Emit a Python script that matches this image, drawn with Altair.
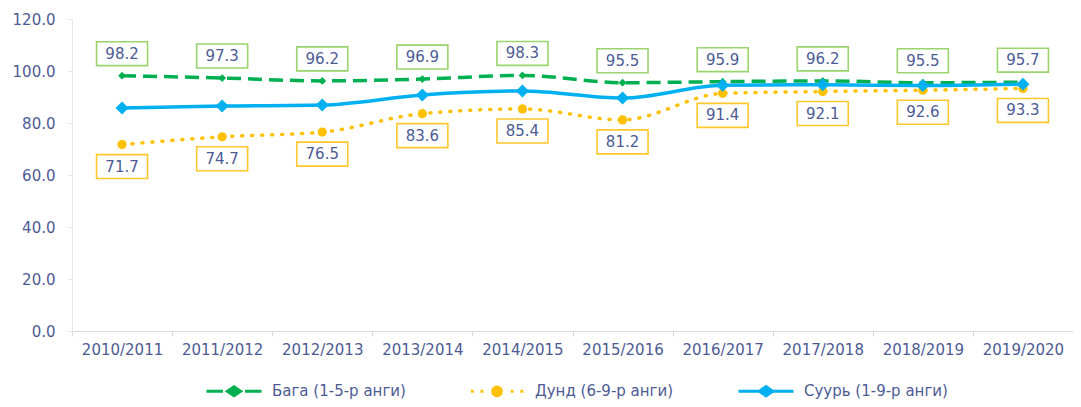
import altair as alt
import pandas as pd

years = ["2010/2011", "2011/2012", "2012/2013", "2013/2014", "2014/2015",
         "2015/2016", "2016/2017", "2017/2018", "2018/2019", "2019/2020"]
baga = [98.2, 97.3, 96.2, 96.9, 98.3, 95.5, 95.9, 96.2, 95.5, 95.7]
dund = [71.7, 74.7, 76.5, 83.6, 85.4, 81.2, 91.4, 92.1, 92.6, 93.3]
suur = [85.8, 86.5, 86.9, 90.8, 92.3, 89.6, 94.5, 94.7, 94.4, 94.9]

names = ["Бага (1-5-р анги)", "Дунд (6-9-р анги)", "Суурь (1-9-р анги)"]
colors = ["#00B050", "#FFC000", "#00B0F0"]

rows = []
for s, vals in zip(names, [baga, dund, suur]):
    for y, v in zip(years, vals):
        rows.append({"year": y, "series": s, "value": v})
df = pd.DataFrame(rows)

FONT = "DejaVu Sans"
TXT = "#4d5b94"

xenc = alt.X("year:N", sort=years,
             scale=alt.Scale(type="band", paddingInner=0, paddingOuter=0),
             axis=alt.Axis(title=None, labelAngle=0, tickBand="extent",
                           domainColor="#d9d9d9", tickColor="#d9d9d9", tickSize=5,
                           labelPadding=6, labelFont=FONT, labelFontSize=15,
                           labelColor=TXT, grid=False))
yenc = alt.Y("value:Q",
             scale=alt.Scale(domain=[0, 120], nice=False, zero=True),
             axis=alt.Axis(title=None, values=[0, 20, 40, 60, 80, 100, 120], format=".1f",
                           domainColor="#e6e6e6", tickColor="#e6e6e6", tickSize=4,
                           labelPadding=13, labelFont=FONT, labelFontSize=15,
                           labelColor=TXT, grid=False))

base = alt.Chart(df).encode(x=xenc, y=yenc)

specs = [
    (names[0], colors[0], [14, 7], 3.5, "butt", "diamond", 60),
    (names[1], colors[1], [1, 9], 3.5, "round", "circle", 85),
    (names[2], colors[2], None, 3.5, "butt", "diamond", 170),
]

layers = []
for s, col, dash, w, cap, shp, sz in specs:
    f = base.transform_filter(alt.datum.series == s)
    lk = dict(color=col, strokeWidth=w, strokeCap=cap, interpolate="monotone")
    if dash:
        lk["strokeDash"] = dash
    layers.append(f.mark_line(**lk))
    layers.append(f.mark_point(shape=shp, filled=True, size=sz, color=col, opacity=1))

box_path = "M-1,-0.47H1V0.47H-1Z"
label_specs = [
    (names[0], "#9BD46C", -22),
    (names[1], "#FFC72C", 22),
]
for s, bcol, off in label_specs:
    f = base.transform_filter(alt.datum.series == s)
    layers.append(f.mark_point(shape=box_path, size=51 * 51, fill="white", stroke=bcol,
                               strokeWidth=1.6, opacity=1, fillOpacity=1, yOffset=off))
    layers.append(f.mark_text(dy=off, font=FONT, fontSize=15, color=TXT).encode(
        text=alt.Text("value:Q", format=".1f")))

leg_paths = [
    "M-1,0H-0.4M0.4,0H1M-0.24,0L0,-0.16L0.24,0L0,0.16Z",
    "M-0.95,0H-0.85M-0.6,0H-0.5M0.5,0H0.6M0.85,0H0.95M0.16,0A0.16,0.16 0 1,1 -0.16,0A0.16,0.16 0 1,1 0.16,0Z",
    "M-1,0H1M-0.24,0L0,-0.17L0.24,0L0,0.17Z",
]
legend_layer = alt.Chart(df).transform_filter("datum.value < 0").mark_point(
    filled=True, strokeWidth=3, opacity=1).encode(
    x=xenc, y=yenc,
    shape=alt.Shape("series:N", scale=alt.Scale(domain=names, range=leg_paths), title=None),
    fill=alt.Fill("series:N", scale=alt.Scale(domain=names, range=colors), title=None),
    stroke=alt.Stroke("series:N", scale=alt.Scale(domain=names, range=colors), title=None),
)
layers.append(legend_layer)

chart = alt.layer(*layers).properties(
    width=1001, height=312,
    autosize=alt.AutoSizeParams(type="none"),
    padding={"left": 64, "top": 11, "right": 0, "bottom": 68},
).configure_view(stroke=None).configure_legend(
    orient="none", legendX=133, legendY=343, direction="horizontal",
    symbolSize=3025, symbolStrokeWidth=3, labelFont=FONT, labelFontSize=15,
    labelColor=TXT, labelOffset=9, columnPadding=58, title=None,
)

chart.save("out.html", embed_options={"renderer": "svg", "actions": False})
